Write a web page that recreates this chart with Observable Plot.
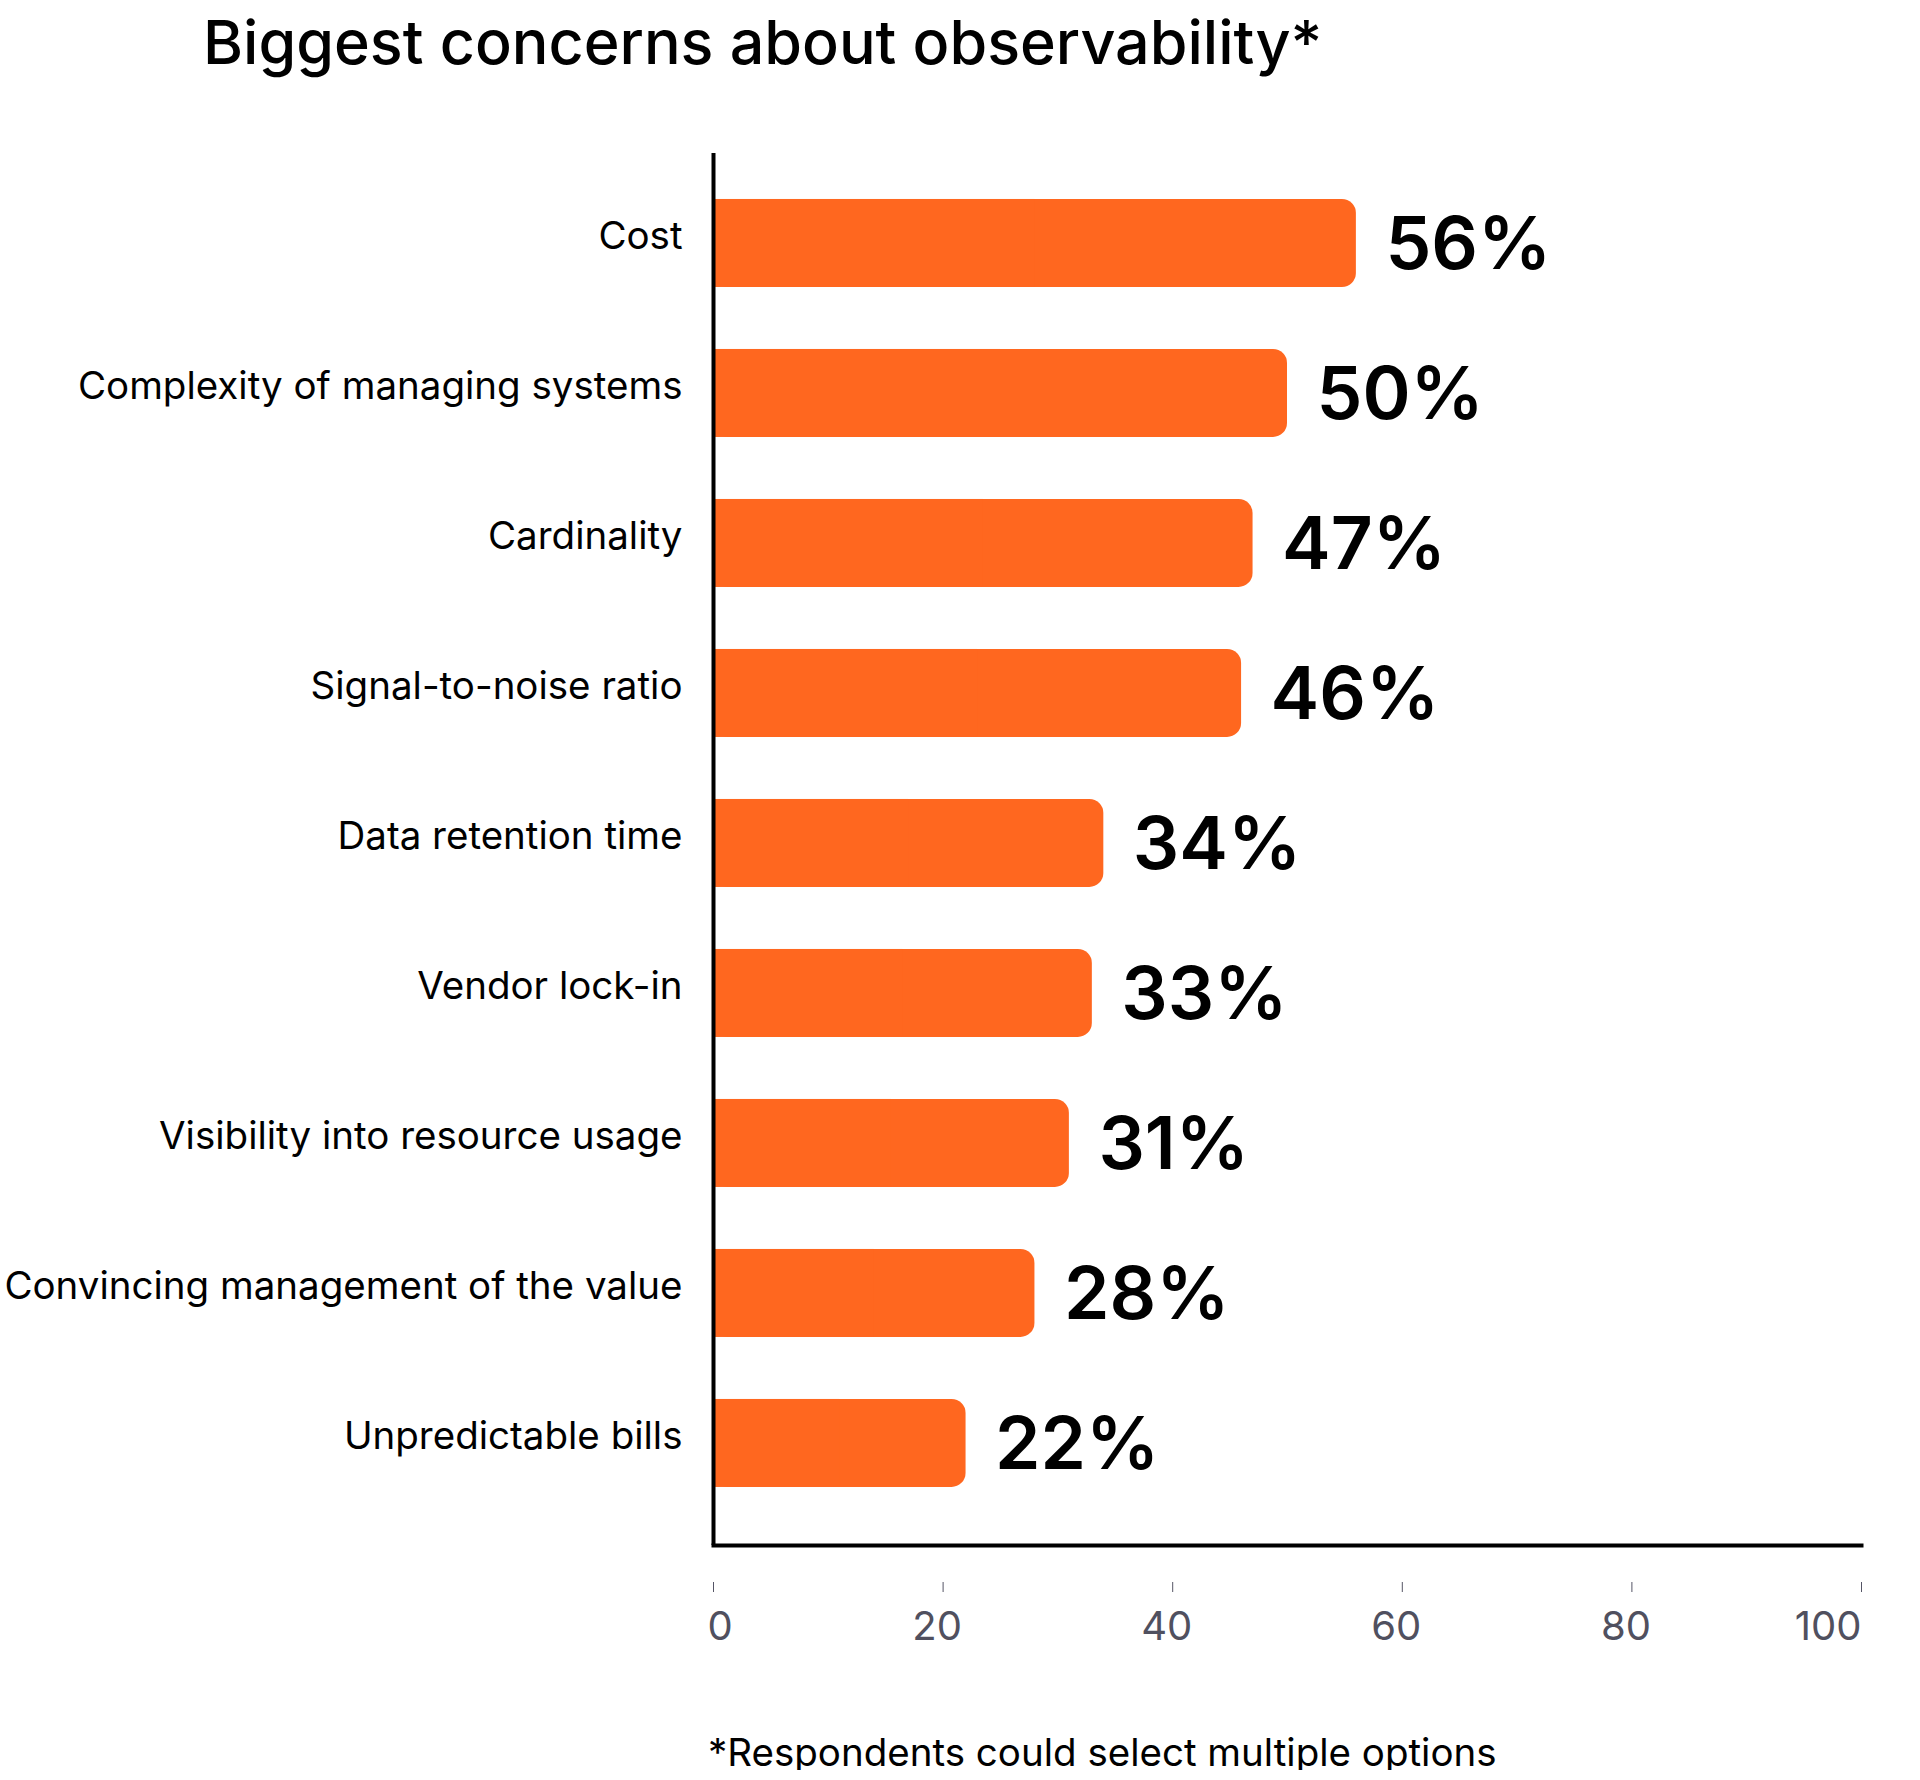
<!DOCTYPE html>
<html>
<head>
<meta charset="utf-8">
<script src="https://cdn.jsdelivr.net/npm/d3@7"></script>
<script src="https://cdn.jsdelivr.net/npm/@observablehq/plot@0.6"></script>
<style>
  html, body { margin: 0; padding: 0; background: #fff; }
  body { width: 1920px; font-family: Inter, "Noto Sans", sans-serif; }
  #title { height: 89px; padding-top: 11px; padding-left: 203px; font-size: 61px; line-height: 62px; font-weight: 500; color: #000; white-space: nowrap; }
  #chart svg { display: block; }
  #caption { margin-top: 14px; padding-left: 708px; font-size: 38.5px; line-height: 36px; color: #000; white-space: nowrap; }
</style>
</head>
<body>
<div id="title">Biggest concerns about observability*</div>
<div id="chart"></div>
<div id="caption">*Respondents could select multiple options</div>
<script>
const categories = [
  "Cost",
  "Complexity of managing systems",
  "Cardinality",
  "Signal-to-noise ratio",
  "Data retention time",
  "Vendor lock-in",
  "Visibility into resource usage",
  "Convincing management of the value",
  "Unpredictable bills"
];
const values = [56, 50, 47, 46, 34, 33, 31, 28, 22];
const xTicks = [0, 20, 40, 60, 80, 100];

const data = categories.map((c, i) => ({category: c, value: values[i]}));
const orange = "#ff671f";

const chart = Plot.plot({
  width: 1920,
  height: 1620,
  marginTop: 53,
  marginBottom: 175,
  marginLeft: 713,
  marginRight: 59,
  style: {fontFamily: "Inter, 'Noto Sans', sans-serif", color: "#000", background: "#fff"},
  x: {domain: [0, 100], axis: null},
  y: {domain: categories, paddingInner: 0.4133, paddingOuter: 0.3467, align: 0.442, round: false, axis: null},
  marks: [
    Plot.barX(data, {x: "value", y: "category", fill: orange, rx: 14}),
    Plot.barX(data, {x1: 0, x2: d => d.value / 2, y: "category", fill: orange}),
    Plot.text(data, {x: "value", y: "category", text: d => d.value + "%", dx: 29, dy: 2, textAnchor: "start", fontSize: 73, fontWeight: 600, fill: "#000"}),
    Plot.axisY({tickSize: 0, tickPadding: 31, fontSize: 38.5, dy: -7, fill: "#000", label: null}),
    Plot.axisX({ticks: xTicks, tickSize: 10, dy: 37, tickFormat: () => "", stroke: "#555566", label: null}),
    Plot.text(xTicks.slice(0, 1), {x: d => d, frameAnchor: "bottom", dy: 82, dx: -6, textAnchor: "start", lineAnchor: "middle", text: d => String(d), fontSize: 40, fill: "#50505f"}),
    Plot.text(xTicks.slice(1, -1), {x: d => d, frameAnchor: "bottom", dy: 82, dx: -6, textAnchor: "middle", lineAnchor: "middle", text: d => String(d), fontSize: 40, fill: "#50505f"}),
    Plot.text(xTicks.slice(-1), {x: d => d, frameAnchor: "bottom", dy: 82, textAnchor: "end", lineAnchor: "middle", text: d => String(d), fontSize: 40, fill: "#50505f"}),
    Plot.ruleX([0], {stroke: "#000", strokeWidth: 4}),
    Plot.frame({anchor: "bottom", stroke: "#000", strokeWidth: 4})
  ]
});
document.getElementById("chart").appendChild(chart);
</script>
</body>
</html>
